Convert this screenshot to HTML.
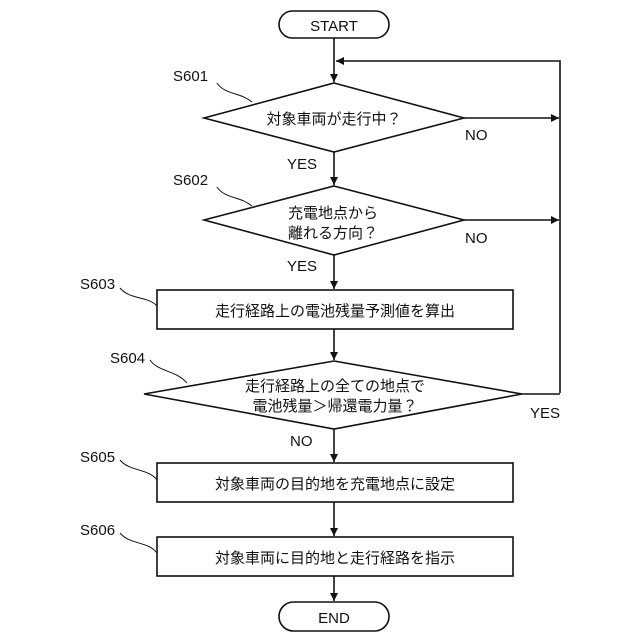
<!DOCTYPE html>
<html><head><meta charset="utf-8"><style>
html,body{margin:0;padding:0;background:#fff;}
svg{display:block;}
text{font-family:"Liberation Sans","Noto Sans CJK JP",sans-serif;fill:#111;}
.t{font-size:15px;}
</style></head><body>
<svg width="640" height="640" viewBox="0 0 640 640" xmlns="http://www.w3.org/2000/svg">
<defs><marker id="a" markerWidth="10" markerHeight="10" refX="9" refY="5" orient="auto" markerUnits="userSpaceOnUse"><path d="M1,1 L9,5 L1,9 z" fill="#111"/></marker></defs>
<g stroke="#111" stroke-width="1.6" fill="none">
<rect x="279" y="11" width="110" height="27" rx="13.5" fill="#fff"/>
<line x1="334" y1="38" x2="334" y2="82" marker-end="url(#a)"/>
<polyline points="560,118 560,61 336,61" marker-end="url(#a)"/>
<line x1="560" y1="118" x2="560" y2="393"/>
<polygon points="334,83 464,118 334,152 204,118" fill="#fff"/>
<line x1="464" y1="118" x2="559" y2="118" marker-end="url(#a)"/>
<line x1="334" y1="152" x2="334" y2="185" marker-end="url(#a)"/>
<polygon points="334,186 464,220 334,255 204,220" fill="#fff"/>
<line x1="464" y1="220" x2="559" y2="220" marker-end="url(#a)"/>
<line x1="334" y1="255" x2="334" y2="289" marker-end="url(#a)"/>
<rect x="157" y="290" width="356" height="39" fill="#fff"/>
<line x1="334" y1="329" x2="334" y2="360" marker-end="url(#a)"/>
<polygon points="334,361 522,394 334,429 144,394" fill="#fff"/>
<line x1="522" y1="394" x2="560" y2="394"/>
<line x1="334" y1="429" x2="334" y2="462" marker-end="url(#a)"/>
<rect x="157" y="463" width="356" height="39" fill="#fff"/>
<line x1="334" y1="502" x2="334" y2="536" marker-end="url(#a)"/>
<rect x="157" y="537" width="356" height="39" fill="#fff"/>
<line x1="334" y1="576" x2="334" y2="601" marker-end="url(#a)"/>
<rect x="279" y="602" width="110" height="29" rx="14.5" fill="#fff"/>
<g stroke-width="1">
<path d="M217,83 C225,95 240,92 252,102"/>
<path d="M217,187 C225,199 240,196 252,206"/>
<path d="M120,288 C130,300 148,296 157,306"/>
<path d="M150,360 C158,372 176,370 187,383"/>
<path d="M120,460 C130,472 148,468 157,480"/>
<path d="M120,533 C130,545 148,541 157,553"/>
</g>
</g>
<g class="t">
<text x="334" y="31" text-anchor="middle">START</text>
<text x="334" y="623" text-anchor="middle">END</text>
<text x="173" y="81">S601</text>
<text x="173" y="185">S602</text>
<text x="80" y="289">S603</text>
<text x="110" y="363">S604</text>
<text x="80" y="462">S605</text>
<text x="80" y="535">S606</text>
<text x="334" y="124" text-anchor="middle">対象車両が走行中？</text>
<text x="333" y="218" text-anchor="middle">充電地点から</text>
<text x="333" y="238" text-anchor="middle">離れる方向？</text>
<text x="335" y="316" text-anchor="middle">走行経路上の電池残量予測値を算出</text>
<text x="335" y="391" text-anchor="middle">走行経路上の全ての地点で</text>
<text x="335" y="411" text-anchor="middle">電池残量＞帰還電力量？</text>
<text x="335" y="489" text-anchor="middle">対象車両の目的地を充電地点に設定</text>
<text x="335" y="563" text-anchor="middle">対象車両に目的地と走行経路を指示</text>
<text x="465" y="140">NO</text>
<text x="465" y="243">NO</text>
<text x="287" y="169">YES</text>
<text x="287" y="271">YES</text>
<text x="530" y="418">YES</text>
<text x="290" y="446">NO</text>
</g>
</svg>
</body></html>
